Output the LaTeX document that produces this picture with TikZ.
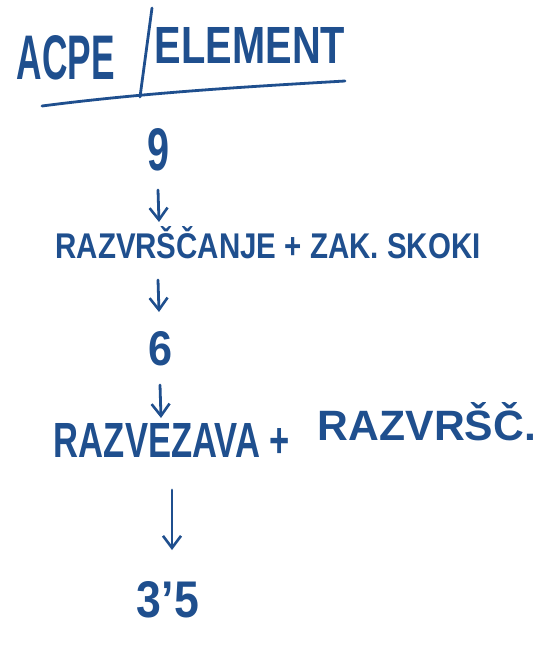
\documentclass[tikz,border=0pt]{standalone}
\usepackage{fontspec}
\setmainfont{Liberation Sans}
\usetikzlibrary{arrows.meta}
\definecolor{ink}{HTML}{1F4F8E}
\begin{document}
\begin{tikzpicture}[x=1pt,y=-1pt,
  hand/.style={text=ink,inner sep=0pt,anchor=center,font=\bfseries},
  pen/.style={draw=ink,line width=2.8pt,line cap=round,line join=round},
  flow/.style={pen,-{Straight Barb[length=12pt,width=18pt,line width=2.6pt]}}]
\useasboundingbox[fill=white] (0,0) rectangle (552,650);
% title
\node[hand] (t1) at (66,58) {\resizebox{98pt}{44pt}{ACPE}};
\node[hand] (t2) at (250,45) {\resizebox{190pt}{36pt}{ELEMENT}};
\coordinate (s1) at (152,8);
\coordinate (s2) at (140,97);
\draw[pen] (s1) -- (s2);
\coordinate (u1) at (42,106);
\coordinate (u2) at (345,81);
\draw[pen] (u1) .. controls (150,92) and (260,86) .. (u2);
% nodes
\node[hand] (n9) at (158,150) {\resizebox{22pt}{42pt}{9}};
\node[hand] (r1) at (268,243) {\resizebox{425pt}{32pt}{RAZVRŠČANJE + ZAK. SKOKI}};
\node[hand] (n6) at (160,349) {\resizebox{24pt}{34pt}{6}};
\node[hand] (r2a) at (172,440) {\resizebox{236pt}{34pt}{RAZVEZAVA +}};
\node[hand] (r2b) at (427,422) {\resizebox{218pt}{38pt}{RAZVRŠČ.}};
\node[hand] (n35) at (168,600) {\resizebox{62pt}{36pt}{3'5}};
% arrow end points
\coordinate (a1s) at (158,190);
\coordinate (a1e) at (159,222);
\coordinate (a2s) at (158,280);
\coordinate (a2e) at (159,312);
\coordinate (a3s) at (160,385);
\coordinate (a3e) at (161,418);
\coordinate (a4s) at (172,490);
\coordinate (a4e) at (172,550);
\draw[flow] (a1s) -- (a1e);
\draw[flow] (a2s) -- (a2e);
\draw[flow] (a3s) -- (a3e);
\draw[flow] (a4s) -- (a4e);
\end{tikzpicture}
\end{document}
